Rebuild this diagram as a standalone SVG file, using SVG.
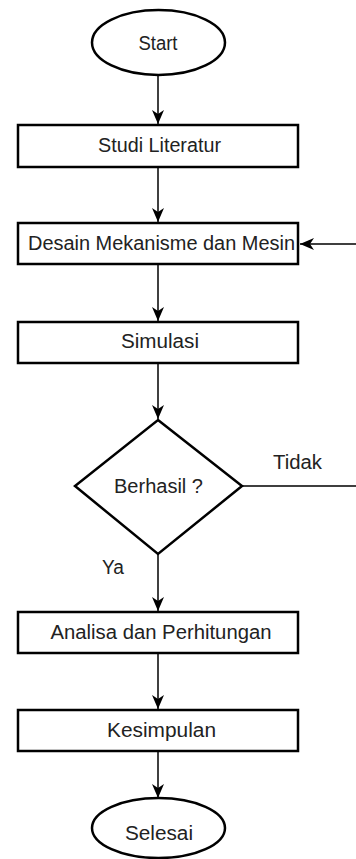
<svg xmlns="http://www.w3.org/2000/svg" width="356" height="859" viewBox="0 0 356 859">
  <style>
    .shape { fill: #ffffff; stroke: #000000; stroke-width: 2.5; }
    .edge { fill: none; stroke: #000000; stroke-width: 1.5; }
    .label { font-family: "Liberation Sans", Arial, sans-serif; font-size: 19.5px; fill: #222222; text-anchor: middle; }
    .note { font-family: "Liberation Sans", Arial, sans-serif; font-size: 19.5px; fill: #222222; }
  </style>
  <defs>
    <marker id="arrow" markerUnits="userSpaceOnUse" markerWidth="16" markerHeight="16" viewBox="0 0 16 16" refX="15" refY="8" orient="auto">
      <path d="M1,2 L15,8 L1,14 L5,8 Z" fill="#000000"/>
    </marker>
  </defs>
  <rect width="356" height="859" fill="#ffffff"/>

  <g id="connectors">
    <line class="edge" x1="158" y1="75" x2="158" y2="124" marker-end="url(#arrow)"/>
    <line class="edge" x1="158" y1="167" x2="158" y2="222" marker-end="url(#arrow)"/>
    <line class="edge" x1="158" y1="264" x2="158" y2="321" marker-end="url(#arrow)"/>
    <line class="edge" x1="158" y1="363" x2="158" y2="419" marker-end="url(#arrow)"/>
    <line class="edge" x1="158" y1="554" x2="158" y2="611" marker-end="url(#arrow)"/>
    <line class="edge" x1="158" y1="653" x2="158" y2="709" marker-end="url(#arrow)"/>
    <line class="edge" x1="158" y1="751" x2="158" y2="798" marker-end="url(#arrow)"/>
    <path id="loop-back" class="edge" d="M242,486 H362 V244 H300" marker-end="url(#arrow)"/>
    <text class="note" x="273" y="469" textLength="49" lengthAdjust="spacingAndGlyphs">Tidak</text>
    <text class="note" x="102" y="574" textLength="22" lengthAdjust="spacingAndGlyphs">Ya</text>
  </g>

  <g id="start">
    <ellipse class="shape" cx="158.5" cy="42.5" rx="66.5" ry="32.5"/>
    <text class="label" x="158" y="50" textLength="39" lengthAdjust="spacingAndGlyphs">Start</text>
  </g>

  <g id="studi-literatur">
    <rect class="shape" x="18" y="125" width="280" height="42"/>
    <text class="label" x="159.5" y="152" textLength="123" lengthAdjust="spacingAndGlyphs">Studi Literatur</text>
  </g>

  <g id="desain">
    <rect class="shape" x="18" y="223" width="280" height="41"/>
    <text class="label" x="161.5" y="250" textLength="267" lengthAdjust="spacingAndGlyphs">Desain Mekanisme dan Mesin</text>
  </g>

  <g id="simulasi">
    <rect class="shape" x="18" y="322" width="280" height="41"/>
    <text class="label" x="160" y="348" textLength="78" lengthAdjust="spacingAndGlyphs">Simulasi</text>
  </g>

  <g id="berhasil">
    <polygon class="shape" points="158,420 242,486 158,554 75,486"/>
    <text class="label" x="158.5" y="493" textLength="89" lengthAdjust="spacingAndGlyphs">Berhasil ?</text>
  </g>

  <g id="analisa">
    <rect class="shape" x="18" y="612" width="280" height="41"/>
    <text class="label" x="161" y="639" textLength="221" lengthAdjust="spacingAndGlyphs">Analisa dan Perhitungan</text>
  </g>

  <g id="kesimpulan">
    <rect class="shape" x="18" y="710" width="280" height="41"/>
    <text class="label" x="161.5" y="737" textLength="109" lengthAdjust="spacingAndGlyphs">Kesimpulan</text>
  </g>

  <g id="selesai">
    <ellipse class="shape" cx="158.5" cy="828" rx="66.5" ry="30"/>
    <text class="label" x="159" y="840" textLength="68" lengthAdjust="spacingAndGlyphs">Selesai</text>
  </g>
</svg>
